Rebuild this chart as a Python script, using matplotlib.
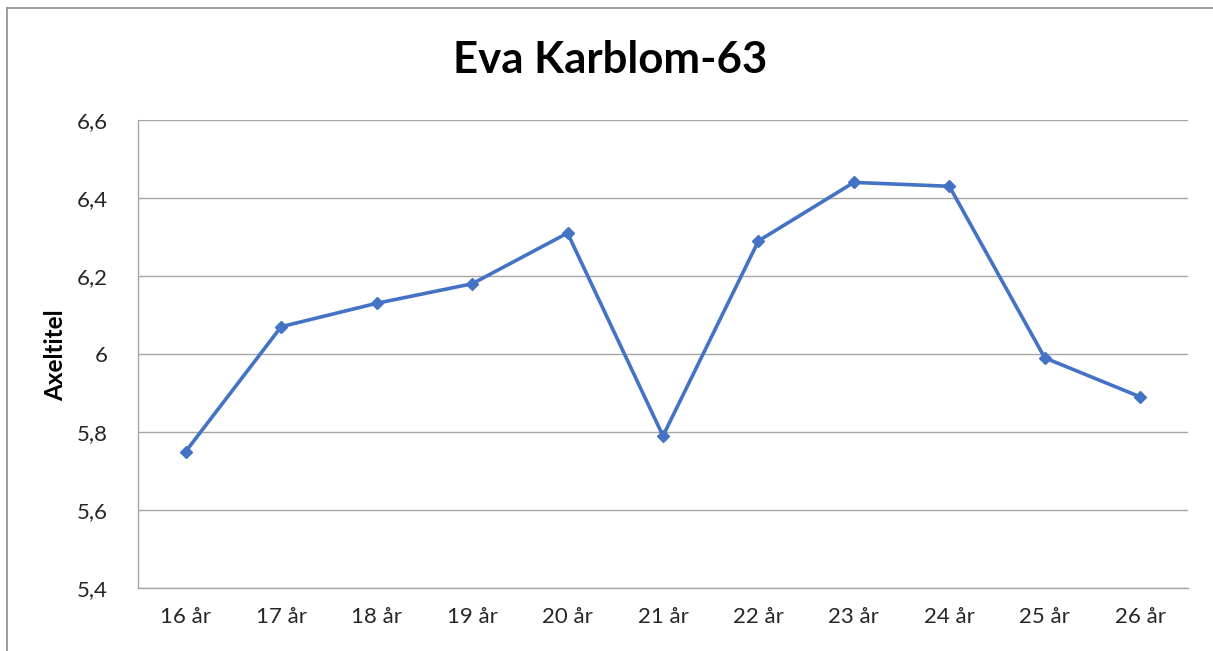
import matplotlib
matplotlib.use("Agg")
import matplotlib.pyplot as plt
from matplotlib.lines import Line2D

categories = ["16 år", "17 år", "18 år", "19 år", "20 år", "21 år", "22 år", "23 år", "24 år", "25 år", "26 år"]
values = [5.75, 6.07, 6.13, 6.18, 6.31, 5.79, 6.29, 6.44, 6.43, 5.99, 5.89]
yticks = [5.4, 5.6, 5.8, 6.0, 6.2, 6.4, 6.6]
ytick_labels = ["5,4", "5,6", "5,8", "6", "6,2", "6,4", "6,6"]

plt.rcParams['font.family'] = ['Lato', 'DejaVu Sans']

W, H = 1213, 651
fig = plt.figure(figsize=(W / 100, H / 100), dpi=100)
ax = fig.add_axes([138 / W, 1 - 588 / H, (1188 - 138) / W, (588 - 120) / H])

x = list(range(len(categories)))
ax.plot(x, values, color="#4472C4", linewidth=2.6, marker="D", markersize=6.5,
        markerfacecolor="#4472C4", markeredgecolor="#4472C4", zorder=3)

ax.set_xlim(-0.5, len(categories) - 0.5)
ax.set_ylim(5.4, 6.6)
ax.set_yticks(yticks)
ax.set_yticklabels(ytick_labels, fontsize=16, color="#262626")
ax.set_xticks(x)
ax.set_xticklabels(categories, fontsize=16, color="#262626")
ax.tick_params(axis="both", length=0)
ax.tick_params(axis="y", pad=22)
ax.tick_params(axis="x", pad=14)
ax.grid(axis="y", color="#a6a6a6", linewidth=1)
ax.set_axisbelow(True)
for s in ["top", "right"]:
    ax.spines[s].set_visible(False)
for s in ["left", "bottom"]:
    ax.spines[s].set_color("#a6a6a6")
    ax.spines[s].set_linewidth(1)

fig.text(56 / W, 1 - 355 / H, "Axeltitel", rotation=90, ha="center", va="center",
         fontsize=17.5, fontweight="bold", color="black")

fig.text(610 / W, 1 - 60 / H, "Eva Karblom-63", ha="center", va="center",
         fontsize=31.5, fontweight="bold", color="black")

# outer chart border
fig.add_artist(Line2D([6.5 / W, 6.5 / W], [0, 1 - 8 / H], transform=fig.transFigure,
                      color="#8c8c8c", linewidth=1.2))
fig.add_artist(Line2D([6.5 / W, 1], [1 - 8 / H, 1 - 8 / H], transform=fig.transFigure,
                      color="#8c8c8c", linewidth=1.2))

fig.savefig("out.png", dpi=100)
